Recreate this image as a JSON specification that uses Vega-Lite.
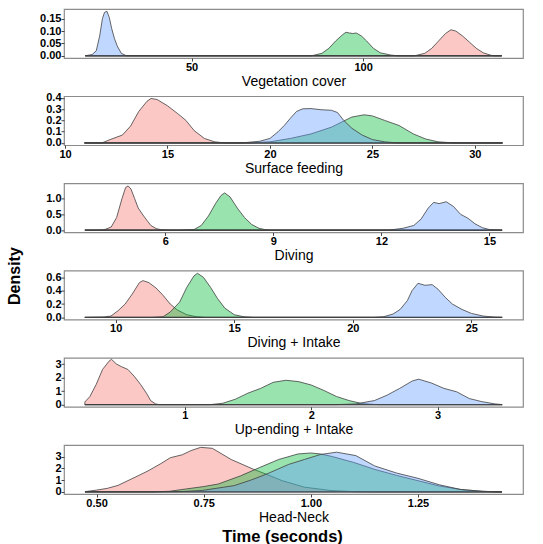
{
  "$schema": "https://vega.github.io/schema/vega-lite/v6.json",
  "padding": {"left": 5, "top": 8, "right": 0, "bottom": 0},
  "title": {"text": "Time (seconds)", "orient": "bottom", "anchor": "middle", "fontSize": 16.5, "fontWeight": "bold", "font": "Liberation Sans", "color": "#000000", "offset": 4, "dx": 18},
  "data": {"values": [
    {"p":"veg","g":"r","x":19,"y":0},{"p":"veg","g":"r","x":115,"y":0},{"p":"veg","g":"r","x":118,"y":0.01},{"p":"veg","g":"r","x":120,"y":0.03},{"p":"veg","g":"r","x":122,"y":0.06},{"p":"veg","g":"r","x":124,"y":0.09},{"p":"veg","g":"r","x":125.6,"y":0.105},{"p":"veg","g":"r","x":127,"y":0.1},{"p":"veg","g":"r","x":129,"y":0.08},{"p":"veg","g":"r","x":131,"y":0.055},{"p":"veg","g":"r","x":133,"y":0.03},{"p":"veg","g":"r","x":135,"y":0.012},{"p":"veg","g":"r","x":137,"y":0.003},{"p":"veg","g":"r","x":138,"y":0},{"p":"veg","g":"r","x":140.4,"y":0},
    {"p":"veg","g":"g","x":19,"y":0},{"p":"veg","g":"g","x":85,"y":0},{"p":"veg","g":"g","x":88,"y":0.01},{"p":"veg","g":"g","x":90,"y":0.03},{"p":"veg","g":"g","x":92,"y":0.06},{"p":"veg","g":"g","x":94,"y":0.085},{"p":"veg","g":"g","x":95,"y":0.095},{"p":"veg","g":"g","x":96,"y":0.092},{"p":"veg","g":"g","x":97,"y":0.09},{"p":"veg","g":"g","x":98,"y":0.092},{"p":"veg","g":"g","x":99.5,"y":0.08},{"p":"veg","g":"g","x":101,"y":0.06},{"p":"veg","g":"g","x":103,"y":0.03},{"p":"veg","g":"g","x":105,"y":0.012},{"p":"veg","g":"g","x":108,"y":0.003},{"p":"veg","g":"g","x":110,"y":0},{"p":"veg","g":"g","x":140.4,"y":0},
    {"p":"veg","g":"b","x":19,"y":0},{"p":"veg","g":"b","x":21,"y":0.005},{"p":"veg","g":"b","x":22.2,"y":0.02},{"p":"veg","g":"b","x":23.2,"y":0.08},{"p":"veg","g":"b","x":24,"y":0.15},{"p":"veg","g":"b","x":24.6,"y":0.175},{"p":"veg","g":"b","x":25.3,"y":0.18},{"p":"veg","g":"b","x":26,"y":0.155},{"p":"veg","g":"b","x":26.7,"y":0.11},{"p":"veg","g":"b","x":27.5,"y":0.07},{"p":"veg","g":"b","x":28.3,"y":0.04},{"p":"veg","g":"b","x":29.5,"y":0.01},{"p":"veg","g":"b","x":31,"y":0},{"p":"veg","g":"b","x":140.4,"y":0},

    {"p":"surf","g":"r","x":10.95,"y":0},{"p":"surf","g":"r","x":11.8,"y":0},{"p":"surf","g":"r","x":12.2,"y":0.03},{"p":"surf","g":"r","x":12.8,"y":0.07},{"p":"surf","g":"r","x":13.2,"y":0.15},{"p":"surf","g":"r","x":13.6,"y":0.28},{"p":"surf","g":"r","x":14.0,"y":0.37},{"p":"surf","g":"r","x":14.2,"y":0.395},{"p":"surf","g":"r","x":14.5,"y":0.385},{"p":"surf","g":"r","x":15.0,"y":0.33},{"p":"surf","g":"r","x":15.5,"y":0.26},{"p":"surf","g":"r","x":15.9,"y":0.2},{"p":"surf","g":"r","x":16.3,"y":0.11},{"p":"surf","g":"r","x":16.8,"y":0.04},{"p":"surf","g":"r","x":17.3,"y":0.01},{"p":"surf","g":"r","x":17.8,"y":0},{"p":"surf","g":"r","x":31.35,"y":0},
    {"p":"surf","g":"g","x":10.95,"y":0},{"p":"surf","g":"g","x":19.0,"y":0},{"p":"surf","g":"g","x":20.0,"y":0.01},{"p":"surf","g":"g","x":21.0,"y":0.04},{"p":"surf","g":"g","x":22.0,"y":0.08},{"p":"surf","g":"g","x":23.0,"y":0.14},{"p":"surf","g":"g","x":23.5,"y":0.185},{"p":"surf","g":"g","x":24.0,"y":0.23},{"p":"surf","g":"g","x":24.6,"y":0.25},{"p":"surf","g":"g","x":25.0,"y":0.24},{"p":"surf","g":"g","x":25.6,"y":0.2},{"p":"surf","g":"g","x":26.3,"y":0.155},{"p":"surf","g":"g","x":27.0,"y":0.08},{"p":"surf","g":"g","x":27.6,"y":0.035},{"p":"surf","g":"g","x":28.2,"y":0.01},{"p":"surf","g":"g","x":29.0,"y":0},{"p":"surf","g":"g","x":31.35,"y":0},
    {"p":"surf","g":"b","x":10.95,"y":0},{"p":"surf","g":"b","x":18.6,"y":0},{"p":"surf","g":"b","x":19.5,"y":0.015},{"p":"surf","g":"b","x":20.0,"y":0.04},{"p":"surf","g":"b","x":20.4,"y":0.1},{"p":"surf","g":"b","x":20.7,"y":0.155},{"p":"surf","g":"b","x":21.0,"y":0.22},{"p":"surf","g":"b","x":21.3,"y":0.28},{"p":"surf","g":"b","x":21.6,"y":0.303},{"p":"surf","g":"b","x":22.0,"y":0.305},{"p":"surf","g":"b","x":22.5,"y":0.295},{"p":"surf","g":"b","x":23.0,"y":0.29},{"p":"surf","g":"b","x":23.3,"y":0.27},{"p":"surf","g":"b","x":23.6,"y":0.2},{"p":"surf","g":"b","x":24.0,"y":0.13},{"p":"surf","g":"b","x":24.5,"y":0.07},{"p":"surf","g":"b","x":25.0,"y":0.03},{"p":"surf","g":"b","x":25.6,"y":0.01},{"p":"surf","g":"b","x":26.2,"y":0},{"p":"surf","g":"b","x":31.35,"y":0},

    {"p":"div","g":"r","x":3.77,"y":0},{"p":"div","g":"r","x":4.1,"y":0},{"p":"div","g":"r","x":4.3,"y":0.01},{"p":"div","g":"r","x":4.5,"y":0.1},{"p":"div","g":"r","x":4.65,"y":0.4},{"p":"div","g":"r","x":4.8,"y":1.0},{"p":"div","g":"r","x":4.9,"y":1.35},{"p":"div","g":"r","x":4.97,"y":1.4},{"p":"div","g":"r","x":5.05,"y":1.3},{"p":"div","g":"r","x":5.15,"y":1.0},{"p":"div","g":"r","x":5.25,"y":0.7},{"p":"div","g":"r","x":5.4,"y":0.45},{"p":"div","g":"r","x":5.5,"y":0.3},{"p":"div","g":"r","x":5.6,"y":0.15},{"p":"div","g":"r","x":5.75,"y":0.05},{"p":"div","g":"r","x":5.9,"y":0.01},{"p":"div","g":"r","x":6.1,"y":0},{"p":"div","g":"r","x":15.35,"y":0},
    {"p":"div","g":"g","x":3.77,"y":0},{"p":"div","g":"g","x":6.4,"y":0},{"p":"div","g":"g","x":6.8,"y":0.02},{"p":"div","g":"g","x":7.0,"y":0.15},{"p":"div","g":"g","x":7.2,"y":0.45},{"p":"div","g":"g","x":7.4,"y":0.85},{"p":"div","g":"g","x":7.55,"y":1.1},{"p":"div","g":"g","x":7.65,"y":1.18},{"p":"div","g":"g","x":7.8,"y":1.05},{"p":"div","g":"g","x":8.0,"y":0.7},{"p":"div","g":"g","x":8.2,"y":0.4},{"p":"div","g":"g","x":8.4,"y":0.18},{"p":"div","g":"g","x":8.6,"y":0.06},{"p":"div","g":"g","x":8.8,"y":0.01},{"p":"div","g":"g","x":8.95,"y":0},{"p":"div","g":"g","x":15.35,"y":0},
    {"p":"div","g":"b","x":3.77,"y":0},{"p":"div","g":"b","x":12.2,"y":0},{"p":"div","g":"b","x":12.6,"y":0.06},{"p":"div","g":"b","x":12.9,"y":0.15},{"p":"div","g":"b","x":13.1,"y":0.35},{"p":"div","g":"b","x":13.3,"y":0.7},{"p":"div","g":"b","x":13.45,"y":0.88},{"p":"div","g":"b","x":13.6,"y":0.84},{"p":"div","g":"b","x":13.8,"y":0.9},{"p":"div","g":"b","x":14.0,"y":0.75},{"p":"div","g":"b","x":14.2,"y":0.5},{"p":"div","g":"b","x":14.4,"y":0.38},{"p":"div","g":"b","x":14.6,"y":0.2},{"p":"div","g":"b","x":14.8,"y":0.08},{"p":"div","g":"b","x":15.0,"y":0.02},{"p":"div","g":"b","x":15.2,"y":0.005},{"p":"div","g":"b","x":15.35,"y":0},

    {"p":"divi","g":"r","x":8.7,"y":0},{"p":"divi","g":"r","x":9.5,"y":0.005},{"p":"divi","g":"r","x":9.8,"y":0.02},{"p":"divi","g":"r","x":10.1,"y":0.1},{"p":"divi","g":"r","x":10.4,"y":0.2},{"p":"divi","g":"r","x":10.7,"y":0.35},{"p":"divi","g":"r","x":11.0,"y":0.52},{"p":"divi","g":"r","x":11.15,"y":0.55},{"p":"divi","g":"r","x":11.4,"y":0.52},{"p":"divi","g":"r","x":11.7,"y":0.44},{"p":"divi","g":"r","x":12.0,"y":0.33},{"p":"divi","g":"r","x":12.3,"y":0.2},{"p":"divi","g":"r","x":12.6,"y":0.11},{"p":"divi","g":"r","x":13.0,"y":0.04},{"p":"divi","g":"r","x":13.4,"y":0.01},{"p":"divi","g":"r","x":13.8,"y":0},{"p":"divi","g":"r","x":26.3,"y":0},
    {"p":"divi","g":"g","x":8.7,"y":0},{"p":"divi","g":"g","x":11.5,"y":0},{"p":"divi","g":"g","x":12.0,"y":0.01},{"p":"divi","g":"g","x":12.3,"y":0.08},{"p":"divi","g":"g","x":12.7,"y":0.23},{"p":"divi","g":"g","x":13.0,"y":0.45},{"p":"divi","g":"g","x":13.3,"y":0.62},{"p":"divi","g":"g","x":13.45,"y":0.66},{"p":"divi","g":"g","x":13.7,"y":0.6},{"p":"divi","g":"g","x":14.0,"y":0.45},{"p":"divi","g":"g","x":14.3,"y":0.28},{"p":"divi","g":"g","x":14.6,"y":0.14},{"p":"divi","g":"g","x":15.0,"y":0.04},{"p":"divi","g":"g","x":15.4,"y":0.01},{"p":"divi","g":"g","x":15.8,"y":0},{"p":"divi","g":"g","x":26.3,"y":0},
    {"p":"divi","g":"b","x":8.7,"y":0},{"p":"divi","g":"b","x":20.9,"y":0},{"p":"divi","g":"b","x":21.3,"y":0.01},{"p":"divi","g":"b","x":21.7,"y":0.05},{"p":"divi","g":"b","x":22.0,"y":0.12},{"p":"divi","g":"b","x":22.3,"y":0.25},{"p":"divi","g":"b","x":22.5,"y":0.4},{"p":"divi","g":"b","x":22.75,"y":0.51},{"p":"divi","g":"b","x":23.05,"y":0.48},{"p":"divi","g":"b","x":23.35,"y":0.49},{"p":"divi","g":"b","x":23.6,"y":0.42},{"p":"divi","g":"b","x":23.9,"y":0.3},{"p":"divi","g":"b","x":24.2,"y":0.2},{"p":"divi","g":"b","x":24.6,"y":0.12},{"p":"divi","g":"b","x":25.0,"y":0.06},{"p":"divi","g":"b","x":25.5,"y":0.02},{"p":"divi","g":"b","x":26.0,"y":0.003},{"p":"divi","g":"b","x":26.3,"y":0},

    {"p":"up","g":"r","x":0.21,"y":0.2},{"p":"up","g":"r","x":0.25,"y":0.6},{"p":"up","g":"r","x":0.3,"y":1.5},{"p":"up","g":"r","x":0.35,"y":2.6},{"p":"up","g":"r","x":0.4,"y":3.2},{"p":"up","g":"r","x":0.42,"y":3.35},{"p":"up","g":"r","x":0.46,"y":3.0},{"p":"up","g":"r","x":0.5,"y":2.8},{"p":"up","g":"r","x":0.55,"y":2.6},{"p":"up","g":"r","x":0.6,"y":2.1},{"p":"up","g":"r","x":0.65,"y":1.5},{"p":"up","g":"r","x":0.7,"y":0.8},{"p":"up","g":"r","x":0.73,"y":0.3},{"p":"up","g":"r","x":0.77,"y":0.05},{"p":"up","g":"r","x":0.8,"y":0},{"p":"up","g":"r","x":3.51,"y":0},
    {"p":"up","g":"g","x":0.21,"y":0},{"p":"up","g":"g","x":1.2,"y":0},{"p":"up","g":"g","x":1.3,"y":0.1},{"p":"up","g":"g","x":1.4,"y":0.4},{"p":"up","g":"g","x":1.5,"y":0.85},{"p":"up","g":"g","x":1.6,"y":1.2},{"p":"up","g":"g","x":1.7,"y":1.65},{"p":"up","g":"g","x":1.8,"y":1.8},{"p":"up","g":"g","x":1.9,"y":1.7},{"p":"up","g":"g","x":2.0,"y":1.45},{"p":"up","g":"g","x":2.1,"y":1.05},{"p":"up","g":"g","x":2.2,"y":0.6},{"p":"up","g":"g","x":2.3,"y":0.3},{"p":"up","g":"g","x":2.4,"y":0.08},{"p":"up","g":"g","x":2.5,"y":0.01},{"p":"up","g":"g","x":2.55,"y":0},{"p":"up","g":"g","x":3.51,"y":0},
    {"p":"up","g":"b","x":0.21,"y":0},{"p":"up","g":"b","x":2.2,"y":0},{"p":"up","g":"b","x":2.35,"y":0.05},{"p":"up","g":"b","x":2.5,"y":0.3},{"p":"up","g":"b","x":2.6,"y":0.7},{"p":"up","g":"b","x":2.7,"y":1.2},{"p":"up","g":"b","x":2.8,"y":1.75},{"p":"up","g":"b","x":2.85,"y":1.88},{"p":"up","g":"b","x":2.95,"y":1.6},{"p":"up","g":"b","x":3.05,"y":1.2},{"p":"up","g":"b","x":3.15,"y":0.95},{"p":"up","g":"b","x":3.25,"y":0.45},{"p":"up","g":"b","x":3.35,"y":0.22},{"p":"up","g":"b","x":3.45,"y":0.06},{"p":"up","g":"b","x":3.51,"y":0},

    {"p":"hn","g":"r","x":0.473,"y":0.02},{"p":"hn","g":"r","x":0.5,"y":0.15},{"p":"hn","g":"r","x":0.525,"y":0.3},{"p":"hn","g":"r","x":0.55,"y":0.55},{"p":"hn","g":"r","x":0.597,"y":1.37},{"p":"hn","g":"r","x":0.62,"y":1.78},{"p":"hn","g":"r","x":0.65,"y":2.4},{"p":"hn","g":"r","x":0.672,"y":2.9},{"p":"hn","g":"r","x":0.7,"y":3.15},{"p":"hn","g":"r","x":0.72,"y":3.5},{"p":"hn","g":"r","x":0.743,"y":3.78},{"p":"hn","g":"r","x":0.77,"y":3.7},{"p":"hn","g":"r","x":0.814,"y":2.75},{"p":"hn","g":"r","x":0.866,"y":1.92},{"p":"hn","g":"r","x":0.896,"y":1.5},{"p":"hn","g":"r","x":0.933,"y":0.95},{"p":"hn","g":"r","x":0.985,"y":0.4},{"p":"hn","g":"r","x":1.045,"y":0.12},{"p":"hn","g":"r","x":1.1,"y":0.02},{"p":"hn","g":"r","x":1.15,"y":0},{"p":"hn","g":"r","x":1.446,"y":0},
    {"p":"hn","g":"g","x":0.473,"y":0},{"p":"hn","g":"g","x":0.63,"y":0},{"p":"hn","g":"g","x":0.67,"y":0.05},{"p":"hn","g":"g","x":0.709,"y":0.25},{"p":"hn","g":"g","x":0.75,"y":0.45},{"p":"hn","g":"g","x":0.784,"y":0.67},{"p":"hn","g":"g","x":0.836,"y":1.36},{"p":"hn","g":"g","x":0.88,"y":2.06},{"p":"hn","g":"g","x":0.925,"y":2.75},{"p":"hn","g":"g","x":0.97,"y":3.22},{"p":"hn","g":"g","x":1.0,"y":3.3},{"p":"hn","g":"g","x":1.022,"y":3.22},{"p":"hn","g":"g","x":1.05,"y":3.0},{"p":"hn","g":"g","x":1.1,"y":2.5},{"p":"hn","g":"g","x":1.15,"y":1.9},{"p":"hn","g":"g","x":1.2,"y":1.4},{"p":"hn","g":"g","x":1.25,"y":0.95},{"p":"hn","g":"g","x":1.3,"y":0.5},{"p":"hn","g":"g","x":1.35,"y":0.2},{"p":"hn","g":"g","x":1.4,"y":0.05},{"p":"hn","g":"g","x":1.43,"y":0},{"p":"hn","g":"g","x":1.446,"y":0},
    {"p":"hn","g":"b","x":0.473,"y":0},{"p":"hn","g":"b","x":0.63,"y":0},{"p":"hn","g":"b","x":0.7,"y":0.03},{"p":"hn","g":"b","x":0.746,"y":0.12},{"p":"hn","g":"b","x":0.821,"y":0.53},{"p":"hn","g":"b","x":0.86,"y":1.0},{"p":"hn","g":"b","x":0.896,"y":1.5},{"p":"hn","g":"b","x":0.948,"y":2.33},{"p":"hn","g":"b","x":0.985,"y":2.75},{"p":"hn","g":"b","x":1.022,"y":3.17},{"p":"hn","g":"b","x":1.06,"y":3.37},{"p":"hn","g":"b","x":1.105,"y":3.08},{"p":"hn","g":"b","x":1.149,"y":2.2},{"p":"hn","g":"b","x":1.2,"y":1.6},{"p":"hn","g":"b","x":1.25,"y":1.15},{"p":"hn","g":"b","x":1.3,"y":0.6},{"p":"hn","g":"b","x":1.35,"y":0.2},{"p":"hn","g":"b","x":1.4,"y":0.05},{"p":"hn","g":"b","x":1.446,"y":0}
  ]},
  "spacing": 38.2,
  "bounds": "flush",
  "vconcat": [
    {
      "width": 459, "height": 49,
      "transform": [{"filter": "datum.p == 'veg'"}],
      "mark": {"type": "area", "fillOpacity": 0.4, "stroke": "#404040", "strokeWidth": 0.8, "clip": true},
      "encoding": {
        "x": {"field": "x", "type": "quantitative", "scale": {"domain": [12.8, 146.6], "nice": false, "zero": false}, "axis": {"values": [50, 100, 150], "format": "d", "title": "Vegetation cover"}},
        "y": {"field": "y", "type": "quantitative", "stack": null, "scale": {"domain": [-0.009, 0.189], "nice": false, "zero": false}, "axis": {"values": [0, 0.05, 0.1, 0.15], "format": ".2f", "title": null}},
        "color": {"field": "g", "type": "nominal", "scale": {"domain": ["r", "g", "b"], "range": ["#F8766D", "#00BA38", "#619CFF"]}, "legend": null}
      }
    },
    {
      "width": 459, "height": 49,
      "transform": [{"filter": "datum.p == 'surf'"}],
      "mark": {"type": "area", "fillOpacity": 0.4, "stroke": "#404040", "strokeWidth": 0.8, "clip": true},
      "encoding": {
        "x": {"field": "x", "type": "quantitative", "scale": {"domain": [9.95, 32.35], "nice": false, "zero": false}, "axis": {"values": [10, 15, 20, 25, 30], "format": "d", "title": "Surface feeding"}},
        "y": {"field": "y", "type": "quantitative", "stack": null, "scale": {"domain": [-0.02, 0.415], "nice": false, "zero": false}, "axis": {"values": [0, 0.1, 0.2, 0.3, 0.4], "format": ".1f", "title": null}},
        "color": {"field": "g", "type": "nominal", "scale": {"domain": ["r", "g", "b"], "range": ["#F8766D", "#00BA38", "#619CFF"]}, "legend": null}
      }
    },
    {
      "width": 459, "height": 49,
      "transform": [{"filter": "datum.p == 'div'"}],
      "mark": {"type": "area", "fillOpacity": 0.4, "stroke": "#404040", "strokeWidth": 0.8, "clip": true},
      "encoding": {
        "x": {"field": "x", "type": "quantitative", "scale": {"domain": [3.19, 15.93], "nice": false, "zero": false}, "axis": {"values": [6, 9, 12, 15], "format": "d", "title": "Diving"}},
        "y": {"field": "y", "type": "quantitative", "stack": null, "scale": {"domain": [-0.07, 1.48], "nice": false, "zero": false}, "axis": {"values": [0, 0.5, 1.0], "format": ".1f", "title": null}},
        "color": {"field": "g", "type": "nominal", "scale": {"domain": ["r", "g", "b"], "range": ["#F8766D", "#00BA38", "#619CFF"]}, "legend": null}
      }
    },
    {
      "width": 459, "height": 49,
      "transform": [{"filter": "datum.p == 'divi'"}],
      "mark": {"type": "area", "fillOpacity": 0.4, "stroke": "#404040", "strokeWidth": 0.8, "clip": true},
      "encoding": {
        "x": {"field": "x", "type": "quantitative", "scale": {"domain": [7.82, 27.18], "nice": false, "zero": false}, "axis": {"values": [10, 15, 20, 25], "format": "d", "title": "Diving + Intake"}},
        "y": {"field": "y", "type": "quantitative", "stack": null, "scale": {"domain": [-0.033, 0.7], "nice": false, "zero": false}, "axis": {"values": [0, 0.2, 0.4, 0.6], "format": ".1f", "title": "Density", "titleFontSize": 16, "titleFontWeight": "bold", "titleX": -42, "titleY": 5, "titleAngle": 270, "titleBaseline": "bottom", "titleAlign": "center"}},
        "color": {"field": "g", "type": "nominal", "scale": {"domain": ["r", "g", "b"], "range": ["#F8766D", "#00BA38", "#619CFF"]}, "legend": null}
      }
    },
    {
      "width": 459, "height": 49,
      "transform": [{"filter": "datum.p == 'up'"}],
      "mark": {"type": "area", "fillOpacity": 0.4, "stroke": "#404040", "strokeWidth": 0.8, "clip": true},
      "encoding": {
        "x": {"field": "x", "type": "quantitative", "scale": {"domain": [0.045, 3.675], "nice": false, "zero": false}, "axis": {"values": [1, 2, 3], "format": "d", "title": "Up-ending + Intake"}},
        "y": {"field": "y", "type": "quantitative", "stack": null, "scale": {"domain": [-0.16, 3.46], "nice": false, "zero": false}, "axis": {"values": [0, 1, 2, 3], "format": "d", "title": null}},
        "color": {"field": "g", "type": "nominal", "scale": {"domain": ["r", "g", "b"], "range": ["#F8766D", "#00BA38", "#619CFF"]}, "legend": null}
      }
    },
    {
      "width": 459, "height": 49,
      "transform": [{"filter": "datum.p == 'hn'"}],
      "mark": {"type": "area", "fillOpacity": 0.4, "stroke": "#404040", "strokeWidth": 0.8, "clip": true},
      "encoding": {
        "x": {"field": "x", "type": "quantitative", "scale": {"domain": [0.424, 1.495], "nice": false, "zero": false}, "axis": {"values": [0.5, 0.75, 1.0, 1.25], "format": ".2f", "title": "Head-Neck"}},
        "y": {"field": "y", "type": "quantitative", "stack": null, "scale": {"domain": [-0.18, 3.98], "nice": false, "zero": false}, "axis": {"values": [0, 1, 2, 3], "format": "d", "title": null}},
        "color": {"field": "g", "type": "nominal", "scale": {"domain": ["r", "g", "b"], "range": ["#F8766D", "#00BA38", "#619CFF"]}, "legend": null}
      }
    }
  ],
  "config": {
    "background": "#ffffff",
    "view": {"stroke": "#8c8c8c", "strokeWidth": 1.2},
    "axis": {
      "domain": false, "grid": false, "tickColor": "#444444", "tickSize": 3, "tickWidth": 1,
      "labelFont": "Liberation Sans", "labelFontWeight": "bold", "labelFontSize": 11, "labelColor": "#000000", "labelPadding": 0,
      "labelFlush": false, "labelOverlap": false,
      "titleFont": "Liberation Sans", "titleFontWeight": "normal", "titleFontSize": 14, "titleColor": "#000000", "titlePadding": 2
    }
  }
}
